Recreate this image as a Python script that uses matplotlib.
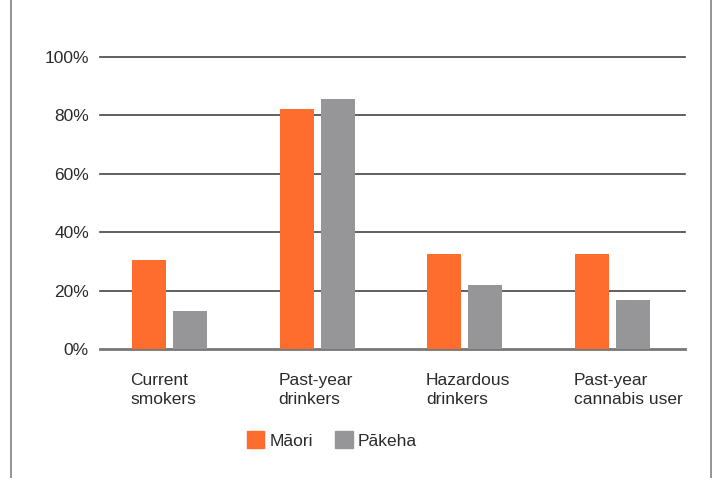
import matplotlib
matplotlib.use('Agg')
import numpy as np
import matplotlib.pyplot as plt
from matplotlib.lines import Line2D
from matplotlib.patches import Patch

categories = ['Current\nsmokers', 'Past-year\ndrinkers', 'Hazardous\ndrinkers', 'Past-year\ncannabis user']
maori = [30.5, 82.2, 32.5, 32.5]
pakeha = [13.0, 85.6, 22.0, 16.8]
series_names = ['Māori', 'Pākeha']
yticks = [0, 20, 40, 60, 80, 100]

orange = '#FF6D2E'
grey = '#969698'
text_col = '#2b2b2b'

plt.rcParams['font.family'] = ['Liberation Sans', 'DejaVu Sans']

fig = plt.figure(figsize=(7.16, 4.78), dpi=100)
ax = fig.add_axes([100 / 716, 1 - 349 / 478, 585 / 716, 292 / 478])

x = np.arange(len(categories))
w = 0.23
gap = 0.047
ax.bar(x - (w + gap) / 2, maori, width=w, color=orange, zorder=3)
ax.bar(x + (w + gap) / 2, pakeha, width=w, color=grey, zorder=3)

ax.set_xlim(-0.4706, 3.49)
ax.set_ylim(0, 100)
for v in yticks:
    ax.axhline(v, color='#777777' if v == 0 else '#444444',
               lw=2.0 if v == 0 else 1.2, zorder=1, clip_on=False)

ax.set_yticks(yticks)
ax.set_yticklabels(['%d%%' % v for v in yticks], fontsize=12.5, color=text_col)
ax.tick_params(axis='y', length=0, pad=8)
ax.set_xticks([])
for s in ax.spines.values():
    s.set_visible(False)

# category labels, left aligned under the first bar
for i, lab in enumerate(categories):
    ax.text(i - (w + gap) / 2 - w / 2 - 0.01, -8.3, lab, ha='left', va='top',
            fontsize=12.5, color=text_col, linespacing=1.3)

handles = [Patch(color=orange), Patch(color=grey)]
fig.legend(handles, series_names, loc='center', bbox_to_anchor=(332 / 716, 1 - 440 / 478),
           ncol=2, frameon=False, fontsize=12.5, handlelength=1.0, handleheight=1.15,
           handletextpad=0.3, columnspacing=1.3, labelcolor=text_col)

# frame lines of the screenshot
fig.add_artist(Line2D([11 / 716, 11 / 716], [0, 1], color='#8a8a8a', lw=1.3))
fig.add_artist(Line2D([711 / 716, 711 / 716], [0, 1], color='#8a8a8a', lw=1.3))

fig.savefig('out.png', dpi=100, facecolor='white')
